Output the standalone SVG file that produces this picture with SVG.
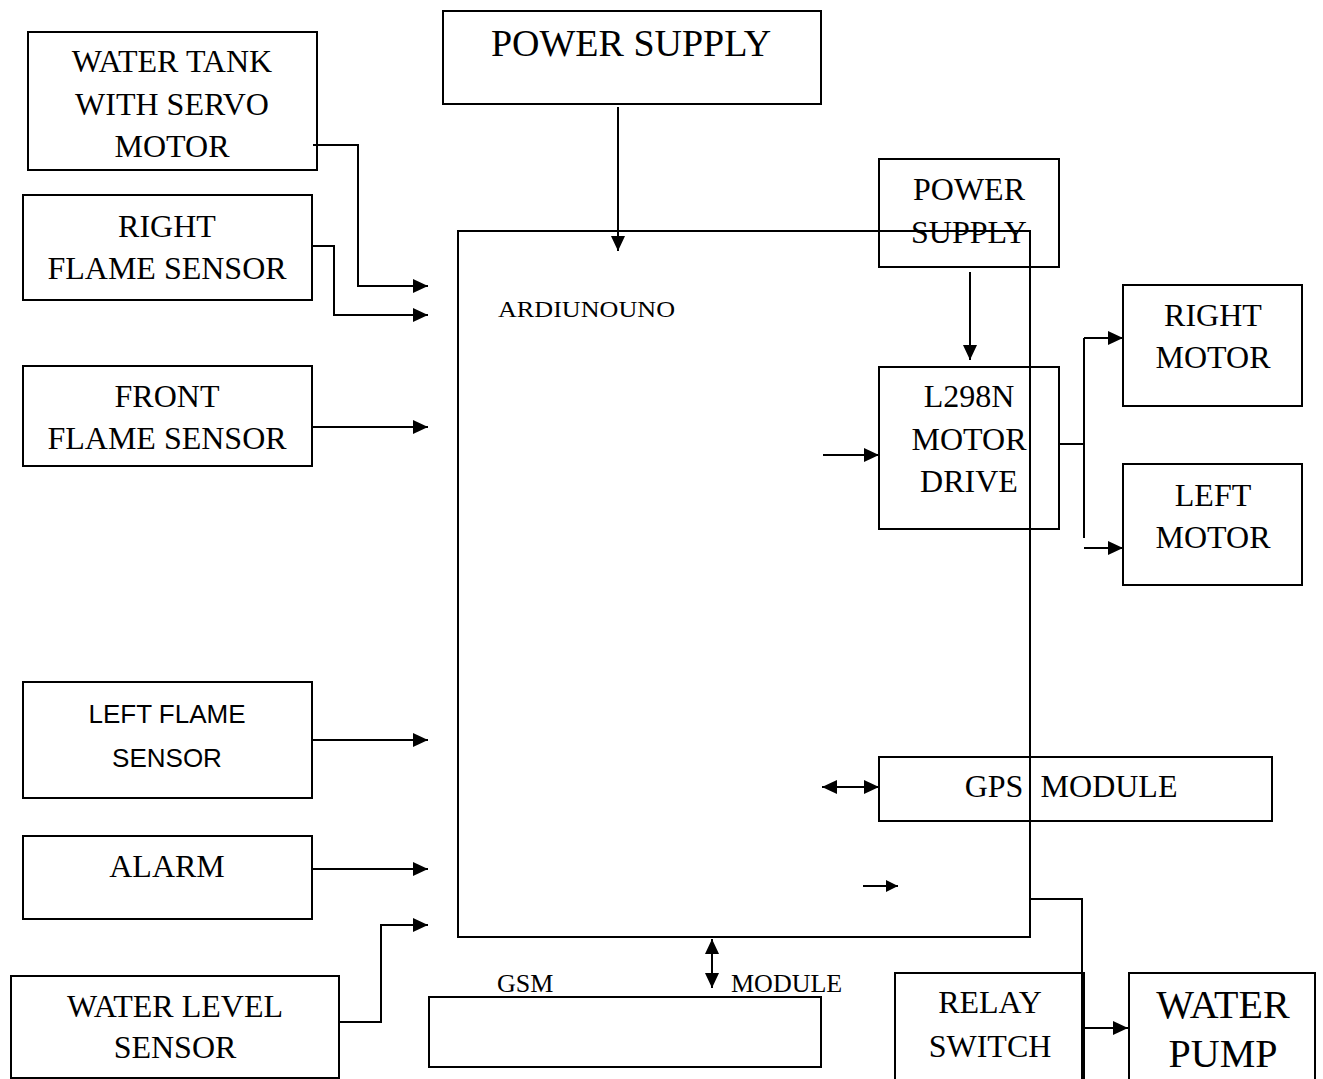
<svg xmlns="http://www.w3.org/2000/svg" width="1323" height="1079" viewBox="0 0 1323 1079">
<style>
.box{fill:none;stroke:#000;stroke-width:2}
.ln{fill:none;stroke:#000;stroke-width:2}
.t{font-family:"Liberation Serif","Times New Roman",serif;font-size:32px;fill:#000;text-anchor:middle}
.s{font-family:"Liberation Sans",Arial,sans-serif;font-size:26px;fill:#000;text-anchor:middle}
.big{font-size:38px}
.pump{font-size:40px}
.sm{font-size:26px;text-anchor:start}
.a{marker-end:url(#ah)}
.aa{marker-start:url(#ahs);marker-end:url(#ah)}
</style>
<defs>
<marker id="ah" markerUnits="userSpaceOnUse" markerWidth="16" markerHeight="16" refX="15" refY="7" orient="auto"><path d="M0,0 L15,7 L0,14 z" fill="#000"/></marker>
<marker id="ahs" markerUnits="userSpaceOnUse" markerWidth="16" markerHeight="16" refX="0" refY="7" orient="auto"><path d="M15,0 L0,7 L15,14 z" fill="#000"/></marker>
<marker id="ahsm" markerUnits="userSpaceOnUse" markerWidth="14" markerHeight="14" refX="12" refY="6" orient="auto"><path d="M0,0 L12,6 L0,12 z" fill="#000"/></marker>
</defs>
<rect width="1323" height="1079" fill="#fff"/>

<g id="water-tank">
<rect class="box" x="28" y="32" width="289" height="138"/>
<text class="t" x="172" y="72">WATER TANK</text>
<text class="t" x="172" y="115">WITH SERVO</text>
<text class="t" x="172" y="157">MOTOR</text>
</g>
<g id="right-flame">
<rect class="box" x="23" y="195" width="289" height="105"/>
<text class="t" x="167" y="237">RIGHT</text>
<text class="t" x="167" y="279">FLAME SENSOR</text>
</g>
<g id="front-flame">
<rect class="box" x="23" y="366" width="289" height="100"/>
<text class="t" x="167" y="407">FRONT</text>
<text class="t" x="167" y="449">FLAME SENSOR</text>
</g>
<g id="left-flame">
<rect class="box" x="23" y="682" width="289" height="116"/>
<text class="s" x="167" y="723">LEFT FLAME</text>
<text class="s" x="167" y="767">SENSOR</text>
</g>
<g id="alarm">
<rect class="box" x="23" y="836" width="289" height="83"/>
<text class="t" x="167" y="877">ALARM</text>
</g>
<g id="water-level">
<rect class="box" x="11" y="976" width="328" height="102"/>
<text class="t" x="175" y="1017">WATER LEVEL</text>
<text class="t" x="175" y="1058">SENSOR</text>
</g>
<g id="power-supply-main">
<rect class="box" x="443" y="11" width="378" height="93"/>
<text class="t big" x="631" y="56">POWER SUPPLY</text>
</g>
<g id="power-supply-motor">
<rect class="box" x="879" y="159" width="180" height="108"/>
<text class="t" x="969" y="200">POWER</text>
<text class="t" x="969" y="243">SUPPLY</text>
</g>
<g id="l298n">
<rect class="box" x="879" y="367" width="180" height="162"/>
<text class="t" x="969" y="407">L298N</text>
<text class="t" x="969" y="450">MOTOR</text>
<text class="t" x="969" y="492">DRIVE</text>
</g>
<g id="right-motor">
<rect class="box" x="1123" y="285" width="179" height="121"/>
<text class="t" x="1213" y="326">RIGHT</text>
<text class="t" x="1213" y="368">MOTOR</text>
</g>
<g id="left-motor">
<rect class="box" x="1123" y="464" width="179" height="121"/>
<text class="t" x="1213" y="506">LEFT</text>
<text class="t" x="1213" y="548">MOTOR</text>
</g>
<g id="gps">
<rect class="box" x="879" y="757" width="393" height="64"/>
<text class="t" x="994" y="797">GPS</text>
<text class="t" x="1109" y="797">MODULE</text>
</g>
<g id="gsm">
<rect class="box" x="429" y="997" width="392" height="70"/>
<text class="t sm" x="497" y="992">GSM</text>
<text class="t sm" x="731" y="992">MODULE</text>
</g>
<g id="relay">
<rect class="box" x="895" y="973" width="189" height="112"/>
<text class="t" x="990" y="1013">RELAY</text>
<text class="t" x="990" y="1057">SWITCH</text>
</g>
<g id="water-pump">
<rect class="box" x="1129" y="973" width="186" height="112"/>
<text class="t pump" x="1223" y="1018">WATER</text>
<text class="t pump" x="1223" y="1067">PUMP</text>
</g>
<g id="arduino">
<rect class="box" x="458" y="231" width="572" height="706"/>
<text class="t sm" x="498" y="317" style="font-size:24px" textLength="177" lengthAdjust="spacingAndGlyphs">ARDIUNOUNO</text>
</g>

<g id="connectors">
<path class="ln a" d="M313,145 H358 V286 H428"/>
<path class="ln a" d="M312,246 H334 V315 H428"/>
<path class="ln a" d="M312,427 H428"/>
<path class="ln a" d="M312,740 H428"/>
<path class="ln a" d="M312,869 H428"/>
<path class="ln a" d="M339,1022 H381 V925 H428"/>
<path class="ln a" d="M618,107 V251"/>
<path class="ln a" d="M970,272 V360"/>
<path class="ln a" d="M823,455 H879"/>
<path class="ln" d="M1059,444 H1084 M1084,338 V538"/>
<path class="ln a" d="M1084,338 H1123"/>
<path class="ln a" d="M1084,548 H1123"/>
<path class="ln aa" d="M822,787 H879"/>
<path class="ln" style="marker-end:url(#ahsm)" d="M863,886 H898"/>
<path class="ln" d="M1030,899 H1082 V1079"/>
<path class="ln a" d="M1085,1028 H1128"/>
<path class="ln aa" d="M712,939 V988"/>
</g>
</svg>
